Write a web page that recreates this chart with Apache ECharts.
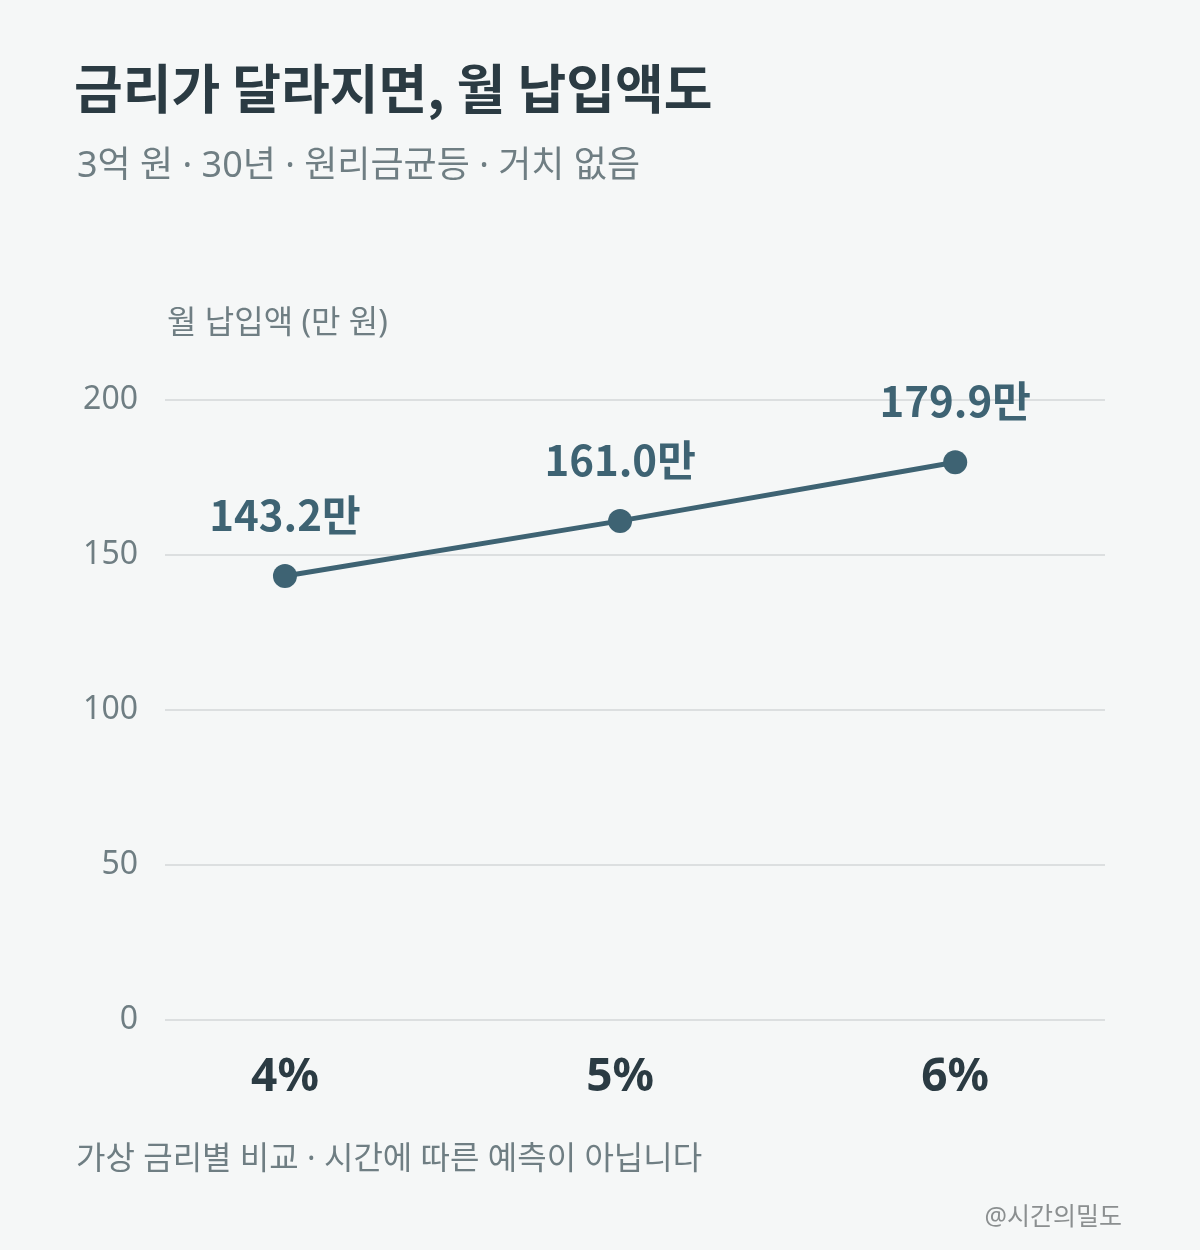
<!DOCTYPE html>
<html>
<head>
<meta charset="utf-8">
<script src="https://cdn.jsdelivr.net/npm/echarts@6/dist/echarts.min.js"></script>
<style>
html, body { margin: 0; padding: 0; background: #f5f7f7; }
#chart { width: 1200px; height: 1250px; }
</style>
</head>
<body>
<div id="chart"></div>
<script>
// 금리별 월 납입액 (만 원)
var rates = [4, 5, 6];
var rateLabels = ['4%', '5%', '6%'];
var payments = [143.2, 161.0, 179.9];
var yTicks = [0, 50, 100, 150, 200];

var FONT = '"Noto Sans CJK KR", "Noto Sans", sans-serif';
var LATIN = '"Noto Sans", "Noto Sans CJK KR", sans-serif';
var dark = '#2b3b43';
var gray = '#6f7e83';
var lineColor = '#3e6373';

var chart = echarts.init(document.getElementById('chart'));

chart.setOption({
    backgroundColor: '#f5f7f7',
    textStyle: { fontFamily: FONT },
    title: [
        {
            text: '금리가 달라지면, 월 납입액도',
            left: 69, top: 57,
            textStyle: { fontFamily: FONT, fontSize: 53, fontWeight: 'bold', color: dark }
        },
        {
            text: '3억 원 · 30년 · 원리금균등 · 거치 없음',
            left: 72, top: 144,
            textStyle: { fontFamily: LATIN, fontSize: 36, fontWeight: 'normal', color: gray }
        },
        {
            text: '월 납입액 (만 원)',
            left: 162, top: 303,
            textStyle: { fontFamily: LATIN, fontSize: 32, fontWeight: 'normal', color: gray }
        },
        {
            text: '가상 금리별 비교 · 시간에 따른 예측이 아닙니다',
            left: 71, top: 1139,
            textStyle: { fontFamily: LATIN, fontSize: 32, fontWeight: 'normal', color: gray }
        },
        {
            text: '@시간의밀도',
            right: 73, top: 1200,
            textStyle: { fontFamily: LATIN, fontSize: 25, fontWeight: 'normal', color: '#8b8f90' }
        }
    ],
    grid: { left: 165, right: 95, top: 400, bottom: 230 },
    xAxis: {
        type: 'value',
        min: 3.642,
        max: 6.447,
        axisLine: { show: false },
        axisTick: { show: false },
        splitLine: { show: false },
        axisLabel: {
            customValues: rates,
            margin: 35,
            fontFamily: LATIN,
            fontSize: 46,
            fontWeight: 'bold',
            color: dark,
            formatter: function (v) {
                return rateLabels[rates.indexOf(Math.round(v))] || '';
            }
        }
    },
    yAxis: {
        type: 'value',
        min: 0,
        max: 200,
        interval: 50,
        axisLine: { show: false },
        axisTick: { show: false },
        axisLabel: {
            customValues: yTicks,
            margin: 27,
            fontFamily: LATIN,
            fontSize: 32,
            color: gray
        },
        splitLine: { lineStyle: { color: '#dcdfe0', width: 2 } }
    },
    series: [{
        type: 'line',
        data: rates.map(function (r, i) { return [r, payments[i]]; }),
        symbol: 'circle',
        symbolSize: 24,
        lineStyle: { color: lineColor, width: 5 },
        itemStyle: { color: lineColor },
        label: {
            show: true,
            position: 'top',
            distance: 28,
            fontFamily: FONT,
            fontSize: 42,
            fontWeight: 'bold',
            color: lineColor,
            formatter: function (p) { return p.value[1].toFixed(1) + '만'; }
        },
        animation: false
    }]
});
</script>
</body>
</html>
